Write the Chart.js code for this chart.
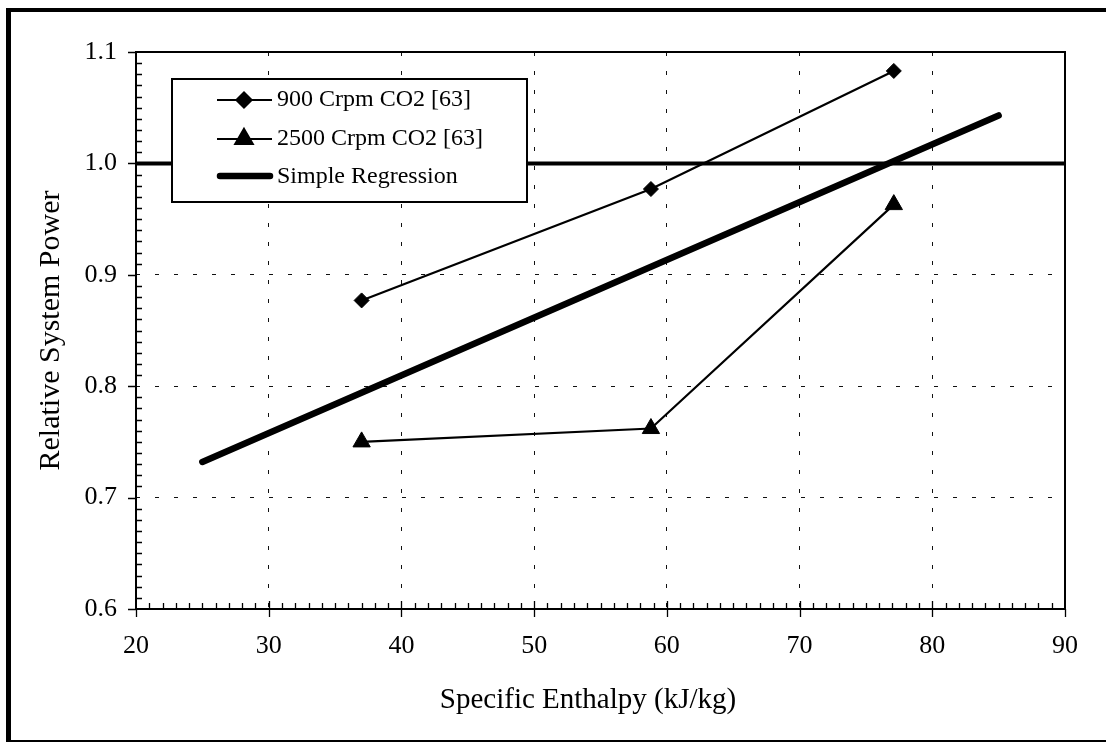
<!DOCTYPE html>
<html>
<head>
<meta charset="utf-8">
<title>Relative System Power vs Specific Enthalpy</title>
<script src="https://cdn.jsdelivr.net/npm/chart.js"></script>
<style>
  body { margin: 0; background: #fff; }
  canvas { display: block; }
</style>
</head>
<body>
<canvas id="chart" width="1106" height="743"></canvas>
<script>
// values
const enthalpy = [37.0, 58.8, 77.1];
const power900 = [0.877, 0.977, 1.083];
const power2500 = [0.750, 0.762, 0.963];
const regressionX = [25, 85];
const regressionY = [0.732, 1.043];
const baselineX = [20, 90];
const baselineY = [1.0, 1.0];
const xTicks = [20, 30, 40, 50, 60, 70, 80, 90];
const yTicks = [0.6, 0.7, 0.8, 0.9, 1.0, 1.1];
const seriesNames = ['900 Crpm CO2 [63]', '2500 Crpm CO2 [63]', 'Simple Regression'];
const xTitle = 'Specific Enthalpy (kJ/kg)';
const yTitle = 'Relative System Power';

const FONT = '"Liberation Serif", "Times New Roman", serif';

function toPoints(xs, ys) {
    return xs.map((x, i) => ({ x: x, y: ys[i] }));
}

// white page, thick outer border, plot frame, axis ticks and legend box
const framePlugin = {
    id: 'frame',
    beforeDraw(chart) {
        const ctx = chart.ctx;
        ctx.save();
        ctx.fillStyle = '#fff';
        ctx.fillRect(0, 0, chart.width, chart.height);
        ctx.restore();
    },
    afterDatasetsDraw(chart) {
        const ctx = chart.ctx;
        const a = chart.chartArea;
        const xs = chart.scales.x;
        const ys = chart.scales.y;
        ctx.save();
        ctx.strokeStyle = '#000';
        ctx.lineWidth = 2;
        ctx.strokeRect(a.left, a.top, a.right - a.left, a.bottom - a.top);

        ctx.lineWidth = 1.3;
        ctx.beginPath();
        // minor ticks, pointing inwards
        for (let i = 1; i < 70; i++) {
            if (i % 10 === 0) continue;
            const px = Math.round(xs.getPixelForValue(20 + i)) + 0.5;
            ctx.moveTo(px, a.bottom);
            ctx.lineTo(px, a.bottom - 6);
        }
        for (let i = 1; i < 50; i++) {
            if (i % 10 === 0) continue;
            const py = Math.round(ys.getPixelForValue(0.6 + i * 0.01)) + 0.5;
            ctx.moveTo(a.left, py);
            ctx.lineTo(a.left + 6, py);
        }
        // major ticks
        xTicks.forEach((v, i) => {
            const px = Math.round(xs.getPixelForValue(v)) + 0.5;
            const inner = (i > 0 && i < xTicks.length - 1) ? 8 : 0;
            ctx.moveTo(px, a.bottom + 8);
            ctx.lineTo(px, a.bottom - inner);
        });
        yTicks.forEach(v => {
            const py = Math.round(ys.getPixelForValue(v)) + 0.5;
            ctx.moveTo(a.left - 8, py);
            ctx.lineTo(a.left, py);
        });
        ctx.stroke();
        ctx.restore();
    },
    afterDraw(chart) {
        const ctx = chart.ctx;
        ctx.save();
        ctx.fillStyle = '#000';
        ctx.fillRect(6, 8, 5, 734);
        ctx.fillRect(6, 8, 1100, 4);
        ctx.fillRect(6, 740, 1100, 2);

        // x axis title sits a little left of the plot centre in the original
        ctx.font = '29px ' + FONT;
        ctx.textAlign = 'center';
        ctx.textBaseline = 'middle';
        ctx.fillText(xTitle, 588, 700);

        // legend
        ctx.fillStyle = '#fff';
        ctx.fillRect(172, 79, 355, 123);
        ctx.strokeStyle = '#000';
        ctx.lineWidth = 2;
        ctx.strokeRect(172, 79, 355, 123);

        const rows = [100, 139, 177];
        ctx.font = '24px ' + FONT;
        ctx.textBaseline = 'middle';
        ctx.textAlign = 'left';
        chart.data.datasets
            .filter(d => d.legendRow !== undefined)
            .sort((p, q) => p.legendRow - q.legendRow)
            .forEach((d, i) => {
                const y = rows[i];
                ctx.strokeStyle = '#000';
                ctx.fillStyle = '#000';
                ctx.lineWidth = d.borderWidth;
                ctx.lineCap = d.borderCapStyle || 'butt';
                ctx.beginPath();
                if (d.borderCapStyle === 'round') {
                    ctx.moveTo(220, y - 1);
                    ctx.lineTo(270, y - 1);
                } else {
                    ctx.moveTo(217, y);
                    ctx.lineTo(272, y);
                }
                ctx.stroke();
                if (d.pointRadius > 0) {
                    Chart.helpers.drawPoint(ctx, {
                        pointStyle: d.pointStyle,
                        radius: d.pointRadius,
                        borderWidth: 1,
                        rotation: 0
                    }, 244, y);
                }
                ctx.fillStyle = '#000';
                ctx.fillText(d.label, 277, y);
            });
        ctx.restore();
    }
};

const ctx = document.getElementById('chart').getContext('2d');
new Chart(ctx, {
    type: 'line',
    data: {
        datasets: [
            {
                label: 'baseline',
                data: toPoints(baselineX, baselineY),
                borderColor: '#000',
                borderWidth: 4,
                pointRadius: 0
            },
            {
                label: seriesNames[2],
                data: toPoints(regressionX, regressionY),
                borderColor: '#000',
                borderWidth: 6.5,
                borderCapStyle: 'round',
                pointRadius: 0,
                legendRow: 2
            },
            {
                label: seriesNames[0],
                data: toPoints(enthalpy, power900),
                borderColor: '#000',
                backgroundColor: '#000',
                borderWidth: 2.2,
                pointStyle: 'rectRot',
                pointRadius: 7.5,
                pointBorderWidth: 1,
                legendRow: 0
            },
            {
                label: seriesNames[1],
                data: toPoints(enthalpy, power2500),
                borderColor: '#000',
                backgroundColor: '#000',
                borderWidth: 2.2,
                pointStyle: 'triangle',
                pointRadius: 10,
                pointBorderWidth: 1,
                legendRow: 1
            }
        ]
    },
    options: {
        responsive: false,
        animation: false,
        layout: { padding: { left: 0, top: 52, right: 41, bottom: 0 } },
        plugins: {
            legend: { display: false },
            tooltip: { enabled: false }
        },
        scales: {
            x: {
                type: 'linear',
                min: 20,
                max: 90,
                afterBuildTicks: s => { s.ticks = xTicks.map(v => ({ value: v })); },
                afterFit: s => { s.height = 134; },
                ticks: {
                    color: '#000',
                    font: { family: FONT, size: 26 },
                    padding: 22
                },
                grid: { color: '#111', lineWidth: 1, drawTicks: false },
                border: { display: false, dash: [4, 15] }
            },
            y: {
                type: 'linear',
                min: 0.6,
                max: 1.1,
                afterBuildTicks: s => { s.ticks = yTicks.map(v => ({ value: v })); },
                afterFit: s => { s.width = 136; },
                ticks: {
                    color: '#000',
                    font: { family: FONT, size: 26 },
                    padding: 19,
                    callback: v => v.toFixed(1)
                },
                grid: { color: '#111', lineWidth: 1, drawTicks: false },
                border: { display: false, dash: [4, 15] },
                title: {
                    display: true,
                    text: yTitle,
                    color: '#000',
                    font: { family: FONT, size: 30, lineHeight: 1 },
                    padding: { top: 36, bottom: 0 }
                }
            }
        }
    },
    plugins: [framePlugin]
});
</script>
</body>
</html>
